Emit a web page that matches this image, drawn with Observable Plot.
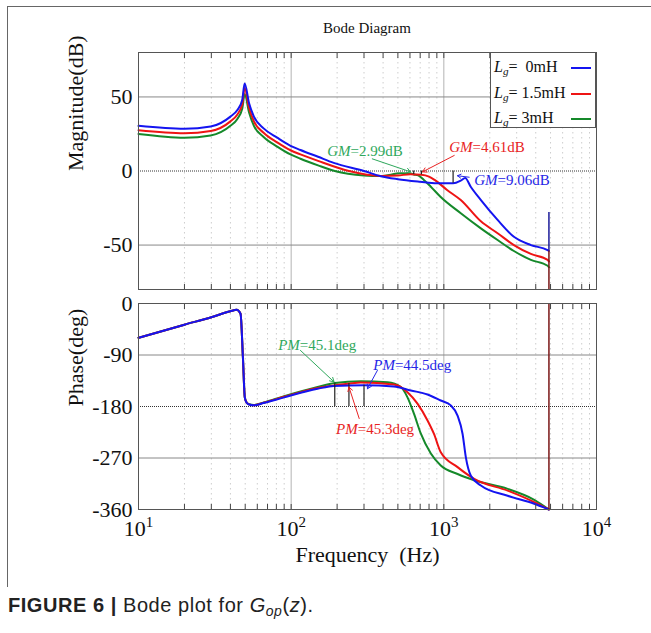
<!DOCTYPE html>
<html><head><meta charset="utf-8">
<script src="https://cdn.jsdelivr.net/npm/d3@7"></script>
<script src="https://cdn.jsdelivr.net/npm/@observablehq/plot@0.6"></script>
<style>
body{margin:0;background:#fff;}
#fig{position:relative;width:651px;height:633px;overflow:hidden;font-family:"Liberation Serif","Times New Roman",serif;background:#fff;}
#fig svg{position:absolute;left:0;}
#frame{position:absolute;left:7px;top:6px;width:700px;height:580px;border-left:1px solid #666;border-top:1px solid #666;}
#title{position:absolute;left:0;width:734px;top:20px;text-align:center;font-size:15px;color:#111;}
#legend{position:absolute;left:490px;top:52px;width:106px;height:76px;box-sizing:border-box;border:1px solid #555;background:#fff;font-size:16px;color:#111;}
#legend .row{position:absolute;left:3px;height:20px;line-height:20px;white-space:pre;}
#legend .ln{position:absolute;left:80px;width:20px;height:2px;}
#caption{position:absolute;left:8px;top:594px;font-family:"Liberation Sans",Arial,sans-serif;font-size:20px;letter-spacing:0.55px;color:#222;white-space:pre;}
sub{font-size:70%;vertical-align:-0.25em;}
</style></head><body><div id="fig"><div id="frame"></div><div id="title">Bode Diagram</div></div>
<script>
// ---------------- data ----------------
const seriesNames = ["0mH", "1.5mH", "3mH"];
const seriesColors = ["#1414f0", "#ee1414", "#15892a"];
const noteColors = ["#2626e6", "#e82323", "#2fa85c"];

// Magnitude (dB)
const fMagBlue = [10, 20, 29.7, 40, 44.3, 47.8, 49.6, 53, 57, 66, 81, 99, 115, 150, 190, 300, 386, 500, 700, 900, 1150, 1290, 1380, 1500, 1750, 2250, 2877, 3717, 4786, 4880];
const magBlue  = [30.5, 28.5, 30, 36.7, 41, 48, 59, 45.7, 36.7, 28.8, 22.5, 17, 14.2, 9.6, 5.5, 0, -3.5, -5.5, -7.2, -8.2, -8.3, -6.5, -4.7, -10.6, -19.6, -33, -44.4, -50, -53.4, -54];
const fMagRed  = [10, 20, 29.7, 40, 44.3, 47.8, 49.6, 53, 57, 66, 81, 99, 115, 150, 239, 386, 500, 603, 713, 800, 870, 1050, 1291, 1748, 2250, 2877, 3717, 4786, 4880];
const magRed   = [27.5, 25.5, 27, 33.5, 38, 45, 56, 42.5, 33.5, 25.8, 19.3, 14, 11.2, 6.8, 0, -3.3, -3.0, -2.2, -2.5, -3.8, -6, -12.8, -19.6, -34, -42, -50, -56, -60, -61];
const fMagGreen = [10, 20, 29.7, 40, 44.3, 47.8, 49.6, 53, 57, 66, 81, 99, 115, 150, 193, 300, 386, 523, 609, 635, 672, 740, 822, 950, 1291, 1748, 2250, 2877, 3717, 4786, 4880];
const magGreen  = [25, 22.5, 24, 30.5, 35, 42, 52, 39.5, 30.5, 23, 16.5, 11.2, 8.3, 3.8, 0, -3, -3.4, -1.6, -1.7, -2.3, -2.7, -6, -10.6, -17.4, -28.5, -38.7, -46.6, -54, -60, -64, -65];

// Phase (deg)
const fPhBlue = [10, 20, 30, 40, 43.9, 46.6, 48.3, 49.7, 51, 53, 57, 66, 90, 149, 190, 300, 470, 608, 782, 955, 1111, 1230, 1327, 1394, 1503, 1748, 2618, 3908, 4880];
const phBlue  = [-60, -37, -24, -13.5, -11, -18, -94, -164, -173, -176.5, -178, -174, -164, -149, -144, -143, -145, -152, -159, -169.5, -178, -196, -228, -269, -301, -318, -336, -350, -360];
const fPhRed  = [10, 20, 30, 40, 43.9, 46.6, 48.3, 49.7, 51, 53, 57, 66, 90, 149, 239, 286, 472, 578, 672, 782, 862, 955, 1230, 1581, 2618, 3908, 4880];
const phRed   = [-60, -37, -24, -13.5, -11, -18, -94, -164, -172.8, -176.2, -177.8, -173.5, -163, -147.5, -140, -138, -141.6, -155, -175, -204.5, -228, -260, -286, -306.5, -327, -347, -360];
const fPhGreen = [10, 20, 30, 40, 43.9, 46.6, 48.3, 49.7, 51, 53, 57, 66, 90, 149, 193, 286, 428, 523, 578, 638, 706, 822, 955, 1230, 1581, 2618, 3908, 4880];
const phGreen  = [-60, -37, -24, -13.5, -11, -18, -94, -164, -172.5, -176, -177.5, -173, -162, -146, -139, -136, -137.6, -146, -164, -193, -227, -262, -283, -298, -309, -324, -343, -360];

// Nyquist edge (Hz) and the vertical jumps there
const fNyquist = 4880;
const magJumpBlue = [-28, -54];
const magJumpRest = [-54, -80];
const phJump = [-360, 0];

// Gain margin markers: order green, red, blue
const gmFreq = [635, 713, 1150];
const gmMag  = [-2.3, -2.5, -8.3];
const gmLabel = ["=2.99dB", "=4.61dB", "=9.06dB"];
const gmTextF = [245, 1542, 2250];
const gmTextV = [13.4, 16.1, -6.4];
const gmArrowF1 = [340, 1170, 1466];
const gmArrowV1 = [8.2, 10.5, -4.2];
const gmArrowF2 = [606, 725, 1228];
const gmArrowV2 = [-0.6, -0.6, -3.2];

// Phase margin markers: order green, red, blue
const pmFreq  = [193, 239, 300];
const pmPhase = [-139, -140, -143];
const pmLabel = ["=45.1deg", "=45.3deg", "=44.5deg"];
const pmTextF = [114, 273, 478];
const pmTextV = [-73.4, -219, -107];
const pmArrowF1 = [115, 279, 367];
const pmArrowV1 = [-82, -201, -117];
const pmArrowF2 = [191, 239, 316];
const pmArrowV2 = [-137, -146, -149];

// Axis ticks and labels
const magTicks = [-50, 0, 50];
const phaseTicks = [-360, -270, -180, -90, 0];
const decadeTicks = [10, 100, 1000, 10000];
const decadeBase = "10";
const decadeExp = ["1", "2", "3", "4"];
const minorTicks = [20, 30, 40, 50, 60, 70, 80, 90, 200, 300, 400, 500, 600, 700, 800, 900, 2000, 3000, 4000, 5000, 6000, 7000, 8000, 9000];

// ---------------- build ----------------
const rows = (f, v) => f.map((d, i) => ({f: d, v: v[i]}));
const magSeries = [rows(fMagGreen, magGreen), rows(fMagRed, magRed), rows(fMagBlue, magBlue)];
const phSeries = [rows(fPhGreen, phGreen), rows(fPhRed, phRed), rows(fPhBlue, phBlue)];
const drawColors = [seriesColors[2], seriesColors[1], seriesColors[0]];
const markColors = [noteColors[2], noteColors[1], noteColors[0]]; // green, red, blue

const gm = gmFreq.map((f, i) => ({f, v: gmMag[i], label: gmLabel[i], tf: gmTextF[i], tv: gmTextV[i],
  f1: gmArrowF1[i], v1: gmArrowV1[i], f2: gmArrowF2[i], v2: gmArrowV2[i], c: markColors[i]}));
const pm = pmFreq.map((f, i) => ({f, v: pmPhase[i], label: pmLabel[i], tf: pmTextF[i], tv: pmTextV[i],
  f1: pmArrowF1[i], v1: pmArrowV1[i], f2: pmArrowF2[i], v2: pmArrowV2[i], c: markColors[i]}));

const font = "Liberation Serif, Times New Roman, serif";
const fmt = d => (d < 0 ? "-" + (-d) : String(d));
const xs = {type: "log", domain: [10, 10000], axis: null};
const ink = "#222";

function grid(lightLines, darkDotted) {
  return [
    Plot.ruleX(minorTicks, {x: d => d, stroke: "#cdcdcd", strokeDasharray: "1.5,3.5"}),
    Plot.ruleX([100, 1000], {x: d => d, stroke: "#b4b4b4"}),
    Plot.ruleY(lightLines, {y: d => d, stroke: "#888"}),
    Plot.ruleY(darkDotted, {y: d => d, stroke: "#333", strokeDasharray: "1,1"})
  ];
}
function inward(anchor) {
  return Plot.axisX(minorTicks.concat([100, 1000]), {anchor, tickSize: 5, dy: anchor === "top" ? 5 : -5,
    fill: "none", label: null, stroke: "#444"});
}
function curves(series) {
  return series.map((s, i) => Plot.line(s, {x: "f", y: "v", stroke: drawColors[i], strokeWidth: 2, curve: "monotone-x"}));
}
function notes(data, labelPrefix) {
  return [
    Plot.arrow(data, {x1: "f1", y1: "v1", x2: "f2", y2: "v2", stroke: "c", strokeWidth: 1, headLength: 7, bend: false}),
    Plot.text(data, {x: "tf", y: "tv", text: () => labelPrefix, fill: "c", fontStyle: "italic", textAnchor: "end", fontSize: 15, fontFamily: font}),
    Plot.text(data, {x: "tf", y: "tv", text: "label", fill: "c", textAnchor: "start", fontSize: 15, fontFamily: font})
  ];
}

const magPlot = Plot.plot({
  width: 651, height: 290, marginLeft: 138, marginRight: 55, marginTop: 52, marginBottom: 1,
  style: {fontFamily: font, background: "transparent", overflow: "visible", color: ink},
  x: xs, y: {domain: [-80, 80], axis: null},
  marks: [
    ...grid([50, -50], [0]),
    ...curves(magSeries),
    Plot.ruleX([fNyquist], {x: d => d, y1: magJumpBlue[0], y2: magJumpBlue[1], stroke: "#1c1c9a", strokeWidth: 1.5}),
    Plot.ruleX([fNyquist], {x: d => d, y1: magJumpRest[0], y2: magJumpRest[1], stroke: "#7a1616", strokeWidth: 1.5}),
    Plot.ruleX(gm, {x: "f", y1: 0, y2: "v", stroke: "#222", strokeWidth: 1.2}),
    ...notes(gm, "GM"),
    Plot.frame({stroke: "#555"}),
    inward("top"), inward("bottom"),
    Plot.axisY(magTicks, {anchor: "left", tickSize: 0, tickPadding: 6, tickFormat: fmt, fontSize: 22, label: null, fill: "#111"}),
    Plot.text(["Magnitude(dB)"], {text: d => d, frameAnchor: "left", rotate: -90, dx: -63, fontSize: 22, fill: "#111"})
  ]
});

const phPlot = Plot.plot({
  width: 651, height: 276, marginLeft: 138, marginRight: 55, marginTop: 10, marginBottom: 60,
  style: {fontFamily: font, background: "transparent", overflow: "visible", color: ink},
  x: xs, y: {domain: [-360, 0], axis: null},
  marks: [
    ...grid([-90, -270], [-180]),
    ...curves(phSeries),
    Plot.ruleX([fNyquist], {x: d => d, y1: phJump[0], y2: phJump[1], stroke: "#7a1616", strokeWidth: 1.5}),
    Plot.ruleX(pm, {x: "f", y1: -180, y2: "v", stroke: "#222", strokeWidth: 1.2}),
    ...notes(pm, "PM"),
    Plot.frame({stroke: "#555"}),
    inward("top"), inward("bottom"),
    Plot.axisY(phaseTicks, {anchor: "left", tickSize: 0, tickPadding: 6, tickFormat: fmt, fontSize: 22, label: null, fill: "#111"}),
    Plot.axisX(decadeTicks, {anchor: "bottom", tickSize: 0, tickPadding: 11, tickFormat: d => decadeBase + "^" + decadeExp[decadeTicks.indexOf(d)], fontSize: 22, label: null, fill: "#111"}),
    Plot.text(["Phase(deg)"], {text: d => d, frameAnchor: "left", rotate: -90, dx: -63, fontSize: 22, fill: "#111"}),
    Plot.text(["Frequency  (Hz)"], {text: d => d, frameAnchor: "bottom", lineAnchor: "middle", dy: 45, fontSize: 22, fill: "#111"})
  ]
});

// turn "10^k" tick texts into a base with a raised exponent
phPlot.querySelectorAll("text").forEach(t => {
  const s = t.textContent;
  if (/^10\^\d$/.test(s)) {
    const [b, e] = s.split("^");
    t.textContent = "";
    const ns = "http://www.w3.org/2000/svg";
    const t1 = document.createElementNS(ns, "tspan"); t1.textContent = b;
    const t2 = document.createElementNS(ns, "tspan"); t2.textContent = e;
    t2.setAttribute("font-size", "15"); t2.setAttribute("dy", "-9");
    t.appendChild(t1); t.appendChild(t2);
  }
});

const fig = document.getElementById("fig");
magPlot.style.top = "0px";
phPlot.style.top = "293px";
fig.appendChild(magPlot);
fig.appendChild(phPlot);

// legend (inside the magnitude panel, upper right)
const legend = document.createElement("div");
legend.id = "legend";
const rowTops = [4, 29.5, 55];
const legendText = {"0mH": "=&nbsp; 0mH", "1.5mH": "= 1.5mH", "3mH": "= 3mH"};
seriesNames.forEach((name, i) => {
  const r = document.createElement("div");
  r.className = "row";
  r.style.top = rowTops[i] + "px";
  r.innerHTML = `<i>L</i><sub><i>g</i></sub>${legendText[name]}`;
  legend.appendChild(r);
  const l = document.createElement("div");
  l.className = "ln";
  l.style.top = (rowTops[i] + 10) + "px";
  l.style.background = seriesColors[i];
  legend.appendChild(l);
});
fig.appendChild(legend);

const cap = document.createElement("div");
cap.id = "caption";
cap.innerHTML = `<b>FIGURE 6 | </b>Bode plot for <i>G</i><sub><i>op</i></sub>(<i>z</i>).`;
fig.appendChild(cap);
</script></body></html>
